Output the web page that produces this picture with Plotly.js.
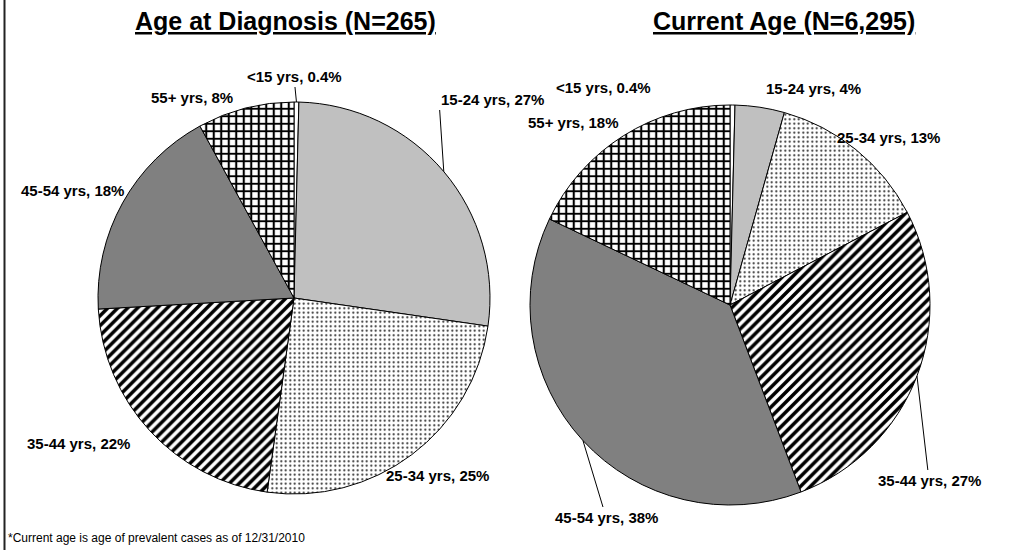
<!DOCTYPE html>
<html>
<head>
<meta charset="utf-8">
<script src="https://cdn.plot.ly/plotly-3.0.1.min.js"></script>
<style>html,body{margin:0;padding:0;background:#fff;}#chart{width:1013px;height:550px;}</style>
</head>
<body>
<div id="chart"></div>
<script>
// ---- data ----
var categories = ['<15 yrs', '15-24 yrs', '25-34 yrs', '35-44 yrs', '45-54 yrs', '55+ yrs'];
var diagnosisPct = [0.4, 27, 25, 22, 18, 8];
var currentPct = [0.4, 4, 13, 27, 38, 18];
var titles = ['Age at Diagnosis (N=265)', 'Current Age (N=6,295)'];
var footnote = '*Current age is age of prevalent cases as of 12/31/2010';

// ---- layout / style ----
var W = 1013, H = 550;
var pies = [
  {cx: 294, cy: 298, r: 196, values: diagnosisPct,
   labelPos: [[294, 77], [439, 100], [437, 475], [78, 443], [72, 190], [192, 97]],
   labelAnchor: ['center', 'left', 'center', 'center', 'center', 'center'],
   leader: [true, true, false, false, false, false]},
  {cx: 730, cy: 305, r: 200, values: currentPct,
   labelPos: [[603, 88], [813, 88], [888, 137], [929, 480], [606, 517], [573, 122]],
   labelAnchor: ['center', 'center', 'center', 'center', 'center', 'center'],
   leader: [false, false, false, true, true, false]}
];
var sliceColors = ['#FFFFFF', '#C0C0C0', '#FFFFFF', '#FFFFFF', '#808080', '#FFFFFF'];
var pattern = {
  shape: ['', '', '.', '/', '', '+'],
  fgcolor: ['#000', '#000', '#222', '#000', '#000', '#000'],
  bgcolor: sliceColors,
  size: [6, 6, 4.5, 7, 7.5, 7.5],
  solidity: [0.3, 0.3, 0.17, 0.5, 0.3, 0.48],
  fillmode: 'replace'
};
var fam = 'Liberation Sans, Arial, sans-serif';
var labelFont = {family: fam, size: 15, color: '#000'};

var data = pies.map(function (p) {
  return {
    type: 'pie',
    labels: categories,
    values: p.values,
    sort: false,
    direction: 'clockwise',
    rotation: 0,
    textinfo: 'none',
    marker: {colors: sliceColors, line: {color: '#000', width: 1}, pattern: pattern},
    domain: {x: [(p.cx - p.r) / W, (p.cx + p.r) / W], y: [1 - (p.cy + p.r) / H, 1 - (p.cy - p.r) / H]},
    showlegend: false,
    hoverinfo: 'label+value'
  };
});

// slice labels: anchored at each slice's mid-angle on the rim (derived from the values)
var annotations = [];
pies.forEach(function (p) {
  var total = p.values.reduce(function (a, b) { return a + b; }, 0);
  var cum = 0;
  p.values.forEach(function (v, i) {
    var mid = (cum + v / 2) / total * 2 * Math.PI;
    cum += v;
    var axp = p.cx + p.r * Math.sin(mid);
    var ayp = p.cy - p.r * Math.cos(mid);
    annotations.push({
      text: '<b>' + categories[i] + ', ' + v + '%</b>',
      xref: 'paper', yref: 'paper',
      x: axp / W, y: 1 - ayp / H,
      ax: p.labelPos[i][0] - axp, ay: p.labelPos[i][1] - ayp,
      xanchor: p.labelAnchor[i], yanchor: 'middle',
      showarrow: true, arrowhead: 0, arrowwidth: 1, standoff: 0,
      arrowcolor: p.leader[i] ? '#000' : 'rgba(0,0,0,0)',
      font: labelFont
    });
  });
});

var tfont = {family: fam, size: 25, color: '#000'};
annotations.push(
  {text: '<b><u>' + titles[0] + '</u></b>', xref: 'paper', yref: 'paper', x: 285 / W, y: 1 - 21 / H, xanchor: 'center', yanchor: 'middle', showarrow: false, font: tfont},
  {text: '<b><u>' + titles[1] + '</u></b>', xref: 'paper', yref: 'paper', x: 784 / W, y: 1 - 21 / H, xanchor: 'center', yanchor: 'middle', showarrow: false, font: tfont},
  {text: footnote, xref: 'paper', yref: 'paper', x: 6 / W, y: 1 - 538 / H, xanchor: 'left', yanchor: 'middle', showarrow: false, font: {family: fam, size: 12, color: '#000'}}
);

var layout = {
  width: W, height: H,
  margin: {l: 0, r: 0, t: 0, b: 0},
  paper_bgcolor: '#fff',
  showlegend: false,
  annotations: annotations,
  shapes: [
    {type: 'line', xref: 'paper', yref: 'paper', x0: 4.5 / W, x1: 4.5 / W, y0: 0, y1: 1, line: {color: '#222', width: 2}}
  ]
};

Plotly.newPlot('chart', data, layout, {displayModeBar: false, staticPlot: true});
</script>
</body>
</html>
